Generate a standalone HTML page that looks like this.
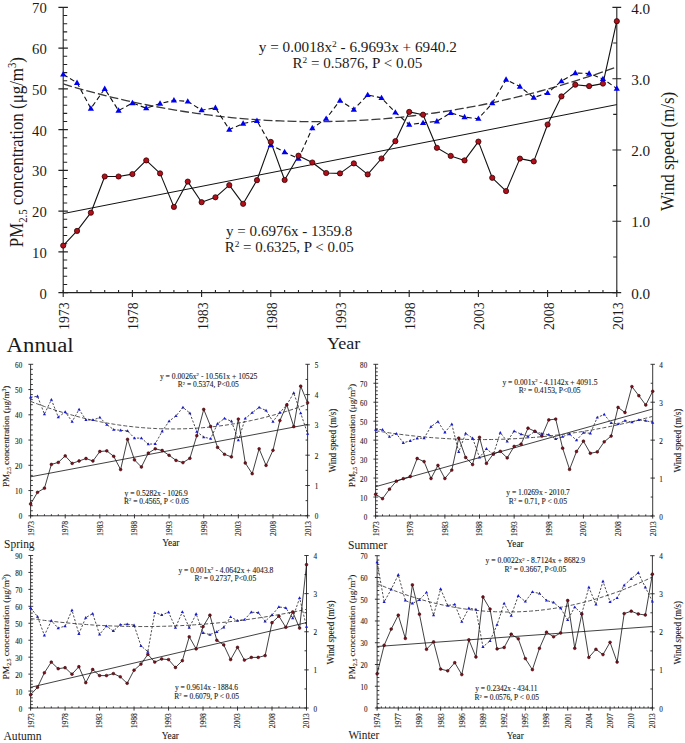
<!DOCTYPE html>
<html><head><meta charset="utf-8"><style>
html,body{margin:0;padding:0;background:#fff;}
body{width:685px;height:743px;overflow:hidden;font-family:"Liberation Serif",serif;}
svg{display:block;}
</style></head><body>
<svg width="685" height="743" viewBox="0 0 685 743" font-family='"Liberation Serif", serif'>
<rect width="685" height="743" fill="#fff"/>
<g stroke="#222" stroke-width="1.1" fill="none">
<path d="M63.2 7.4V292.6 M616.8 7.4V292.6 M63.2 292.6H616.8"/>
<path d="M58.4 292.6H67.9M63.2 284.45H67.2M63.2 276.3H67.2M63.2 268.15H67.2M63.2 260.01H67.2M58.4 251.86H67.9M63.2 243.71H67.2M63.2 235.56H67.2M63.2 227.41H67.2M63.2 219.26H67.2M58.4 211.11H67.9M63.2 202.97H67.2M63.2 194.82H67.2M63.2 186.67H67.2M63.2 178.52H67.2M58.4 170.37H67.9M63.2 162.22H67.2M63.2 154.07H67.2M63.2 145.93H67.2M63.2 137.78H67.2M58.4 129.63H67.9M63.2 121.48H67.2M63.2 113.33H67.2M63.2 105.18H67.2M63.2 97.03H67.2M58.4 88.89H67.9M63.2 80.74H67.2M63.2 72.59H67.2M63.2 64.44H67.2M63.2 56.29H67.2M58.4 48.14H67.9M63.2 39.99H67.2M63.2 31.85H67.2M63.2 23.7H67.2M63.2 15.55H67.2M58.4 7.4H67.9M612.4 292.6H621.2M613.2 256.95H616.8M612.4 221.3H621.2M613.2 185.65H616.8M612.4 150H621.2M613.2 114.35H616.8M612.4 78.7H621.2M613.2 43.05H616.8M612.4 7.4H621.2M63.2 290.1V296.9M77.04 290.1V292.6M90.88 290.1V292.6M104.72 290.1V292.6M118.56 290.1V292.6M132.4 290.1V296.9M146.24 290.1V292.6M160.08 290.1V292.6M173.92 290.1V292.6M187.76 290.1V292.6M201.6 290.1V296.9M215.44 290.1V292.6M229.28 290.1V292.6M243.12 290.1V292.6M256.96 290.1V292.6M270.8 290.1V296.9M284.64 290.1V292.6M298.48 290.1V292.6M312.32 290.1V292.6M326.16 290.1V292.6M340 290.1V296.9M353.84 290.1V292.6M367.68 290.1V292.6M381.52 290.1V292.6M395.36 290.1V292.6M409.2 290.1V296.9M423.04 290.1V292.6M436.88 290.1V292.6M450.72 290.1V292.6M464.56 290.1V292.6M478.4 290.1V296.9M492.24 290.1V292.6M506.08 290.1V292.6M519.92 290.1V292.6M533.76 290.1V292.6M547.6 290.1V296.9M561.44 290.1V292.6M575.28 290.1V292.6M589.12 290.1V292.6M602.96 290.1V292.6M616.8 290.1V296.9"/>
</g>
<text x="46.8" y="298.6" font-size="14.6" text-anchor="end" textLength="7.35" lengthAdjust="spacingAndGlyphs" fill="#1a1a1a">0</text>
<text x="46.8" y="257.86" font-size="14.6" text-anchor="end" textLength="14.7" lengthAdjust="spacingAndGlyphs" fill="#1a1a1a">10</text>
<text x="46.8" y="217.11" font-size="14.6" text-anchor="end" textLength="14.7" lengthAdjust="spacingAndGlyphs" fill="#1a1a1a">20</text>
<text x="46.8" y="176.37" font-size="14.6" text-anchor="end" textLength="14.7" lengthAdjust="spacingAndGlyphs" fill="#1a1a1a">30</text>
<text x="46.8" y="135.63" font-size="14.6" text-anchor="end" textLength="14.7" lengthAdjust="spacingAndGlyphs" fill="#1a1a1a">40</text>
<text x="46.8" y="94.89" font-size="14.6" text-anchor="end" textLength="14.7" lengthAdjust="spacingAndGlyphs" fill="#1a1a1a">50</text>
<text x="46.8" y="54.14" font-size="14.6" text-anchor="end" textLength="14.7" lengthAdjust="spacingAndGlyphs" fill="#1a1a1a">60</text>
<text x="46.8" y="13.4" font-size="14.6" text-anchor="end" textLength="14.7" lengthAdjust="spacingAndGlyphs" fill="#1a1a1a">70</text>
<text x="631.2" y="298.7" font-size="14.6" textLength="19" lengthAdjust="spacingAndGlyphs" fill="#1a1a1a">0.0</text>
<text x="631.2" y="227.4" font-size="14.6" textLength="19" lengthAdjust="spacingAndGlyphs" fill="#1a1a1a">1.0</text>
<text x="631.2" y="156.1" font-size="14.6" textLength="19" lengthAdjust="spacingAndGlyphs" fill="#1a1a1a">2.0</text>
<text x="631.2" y="84.8" font-size="14.6" textLength="19" lengthAdjust="spacingAndGlyphs" fill="#1a1a1a">3.0</text>
<text x="631.2" y="13.5" font-size="14.6" textLength="19" lengthAdjust="spacingAndGlyphs" fill="#1a1a1a">4.0</text>
<text transform="translate(69.2 330) rotate(-90)" font-size="14.6" textLength="27.6" lengthAdjust="spacingAndGlyphs" fill="#1a1a1a">1973</text>
<text transform="translate(138.4 330) rotate(-90)" font-size="14.6" textLength="27.6" lengthAdjust="spacingAndGlyphs" fill="#1a1a1a">1978</text>
<text transform="translate(207.6 330) rotate(-90)" font-size="14.6" textLength="27.6" lengthAdjust="spacingAndGlyphs" fill="#1a1a1a">1983</text>
<text transform="translate(276.8 330) rotate(-90)" font-size="14.6" textLength="27.6" lengthAdjust="spacingAndGlyphs" fill="#1a1a1a">1988</text>
<text transform="translate(346 330) rotate(-90)" font-size="14.6" textLength="27.6" lengthAdjust="spacingAndGlyphs" fill="#1a1a1a">1993</text>
<text transform="translate(415.2 330) rotate(-90)" font-size="14.6" textLength="27.6" lengthAdjust="spacingAndGlyphs" fill="#1a1a1a">1998</text>
<text transform="translate(484.4 330) rotate(-90)" font-size="14.6" textLength="27.6" lengthAdjust="spacingAndGlyphs" fill="#1a1a1a">2003</text>
<text transform="translate(553.6 330) rotate(-90)" font-size="14.6" textLength="27.6" lengthAdjust="spacingAndGlyphs" fill="#1a1a1a">2008</text>
<text transform="translate(622.8 330) rotate(-90)" font-size="14.6" textLength="27.6" lengthAdjust="spacingAndGlyphs" fill="#1a1a1a">2013</text>
<line x1="63.2" y1="213.6" x2="616.8" y2="104.6" stroke="#111" stroke-width="1"/>
<polyline points="63.2,83.97 70.21,86.04 77.22,88.06 84.22,90.02 91.23,91.91 98.24,93.75 105.25,95.53 112.25,97.26 119.26,98.92 126.27,100.52 133.28,102.07 140.28,103.56 147.29,104.99 154.3,106.35 161.31,107.67 168.31,108.92 175.32,110.11 182.33,111.25 189.34,112.32 196.34,113.34 203.35,114.3 210.36,115.2 217.37,116.04 224.37,116.82 231.38,117.55 238.39,118.21 245.4,118.82 252.41,119.36 259.41,119.85 266.42,120.28 273.43,120.65 280.44,120.97 287.44,121.22 294.45,121.42 301.46,121.55 308.47,121.63 315.47,121.65 322.48,121.61 329.49,121.51 336.5,121.35 343.5,121.14 350.51,120.86 357.52,120.53 364.53,120.14 371.53,119.69 378.54,119.18 385.55,118.61 392.56,117.98 399.56,117.3 406.57,116.55 413.58,115.75 420.59,114.89 427.59,113.97 434.6,112.99 441.61,111.95 448.62,110.85 455.63,109.7 462.63,108.48 469.64,107.21 476.65,105.88 483.66,104.49 490.66,103.04 497.67,101.53 504.68,99.97 511.69,98.34 518.69,96.66 525.7,94.91 532.71,93.11 539.72,91.25 546.72,89.33 553.73,87.36 560.74,85.32 567.75,83.23 574.75,81.07 581.76,78.86 588.77,76.59 595.78,74.26 602.78,71.87 609.79,69.42 616.8,66.92" fill="none" stroke="#3a3a3a" stroke-width="1.3" stroke-dasharray="9,3" stroke-linejoin="round"/>
<polyline points="63.2,74.3 77.04,82.8 90.88,108.5 104.72,88.8 118.56,110.6 132.4,103 146.24,108.2 160.08,103.5 173.92,100.3 187.76,101.4 201.6,110.2 215.44,107.8 229.28,129.5 243.12,123.6 256.96,120.8 270.8,145.1 284.64,152.1 298.48,158.7 312.32,128.1 326.16,118.7 340,100.5 353.84,109.5 367.68,94.9 381.52,97.9 395.36,112.4 409.2,124.6 423.04,122.9 436.88,121.3 450.72,112.9 464.56,117.1 478.4,118.7 492.24,103.2 506.08,79.6 519.92,86.6 533.76,97.6 547.6,92.9 561.44,81.2 575.28,73.1 589.12,73.5 602.96,78.9 616.8,88.5" fill="none" stroke="#111" stroke-width="1.1" stroke-dasharray="5,3" stroke-linejoin="round"/>
<polyline points="63.2,245.6 77.04,230.9 90.88,212.7 104.72,176.5 118.56,176.5 132.4,174.1 146.24,160.4 160.08,173.4 173.92,206.9 187.76,181.6 201.6,202.2 215.44,197.3 229.28,185.1 243.12,203.8 256.96,180.2 270.8,141.9 284.64,180 298.48,155.7 312.32,162.5 326.16,173 340,173.4 353.84,163.4 367.68,174.4 381.52,158.5 395.36,141.2 409.2,111.9 423.04,114.7 436.88,147.8 450.72,155.9 464.56,160.4 478.4,141.6 492.24,177.8 506.08,191.1 519.92,158.6 533.76,161.4 547.6,124.5 561.44,96.4 575.28,84.7 589.12,86.1 602.96,83.6 616.8,21.2" fill="none" stroke="#111" stroke-width="1.1" stroke-linejoin="round"/>
<g fill="#0000f0">
<path d="M63.2 71.06L66.3 76.46L60.1 76.46Z"/>
<path d="M77.04 79.56L80.14 84.96L73.94 84.96Z"/>
<path d="M90.88 105.26L93.98 110.66L87.78 110.66Z"/>
<path d="M104.72 85.56L107.82 90.96L101.62 90.96Z"/>
<path d="M118.56 107.36L121.66 112.76L115.46 112.76Z"/>
<path d="M132.4 99.76L135.5 105.16L129.3 105.16Z"/>
<path d="M146.24 104.96L149.34 110.36L143.14 110.36Z"/>
<path d="M160.08 100.26L163.18 105.66L156.98 105.66Z"/>
<path d="M173.92 97.06L177.02 102.46L170.82 102.46Z"/>
<path d="M187.76 98.16L190.86 103.56L184.66 103.56Z"/>
<path d="M201.6 106.96L204.7 112.36L198.5 112.36Z"/>
<path d="M215.44 104.56L218.54 109.96L212.34 109.96Z"/>
<path d="M229.28 126.26L232.38 131.66L226.18 131.66Z"/>
<path d="M243.12 120.36L246.22 125.76L240.02 125.76Z"/>
<path d="M256.96 117.56L260.06 122.96L253.86 122.96Z"/>
<path d="M270.8 141.86L273.9 147.26L267.7 147.26Z"/>
<path d="M284.64 148.86L287.74 154.26L281.54 154.26Z"/>
<path d="M298.48 155.46L301.58 160.86L295.38 160.86Z"/>
<path d="M312.32 124.86L315.42 130.26L309.22 130.26Z"/>
<path d="M326.16 115.46L329.26 120.86L323.06 120.86Z"/>
<path d="M340 97.26L343.1 102.66L336.9 102.66Z"/>
<path d="M353.84 106.26L356.94 111.66L350.74 111.66Z"/>
<path d="M367.68 91.66L370.78 97.06L364.58 97.06Z"/>
<path d="M381.52 94.66L384.62 100.06L378.42 100.06Z"/>
<path d="M395.36 109.16L398.46 114.56L392.26 114.56Z"/>
<path d="M409.2 121.36L412.3 126.76L406.1 126.76Z"/>
<path d="M423.04 119.66L426.14 125.06L419.94 125.06Z"/>
<path d="M436.88 118.06L439.98 123.46L433.78 123.46Z"/>
<path d="M450.72 109.66L453.82 115.06L447.62 115.06Z"/>
<path d="M464.56 113.86L467.66 119.26L461.46 119.26Z"/>
<path d="M478.4 115.46L481.5 120.86L475.3 120.86Z"/>
<path d="M492.24 99.96L495.34 105.36L489.14 105.36Z"/>
<path d="M506.08 76.36L509.18 81.76L502.98 81.76Z"/>
<path d="M519.92 83.36L523.02 88.76L516.82 88.76Z"/>
<path d="M533.76 94.36L536.86 99.76L530.66 99.76Z"/>
<path d="M547.6 89.66L550.7 95.06L544.5 95.06Z"/>
<path d="M561.44 77.96L564.54 83.36L558.34 83.36Z"/>
<path d="M575.28 69.86L578.38 75.26L572.18 75.26Z"/>
<path d="M589.12 70.26L592.22 75.66L586.02 75.66Z"/>
<path d="M602.96 75.66L606.06 81.06L599.86 81.06Z"/>
<path d="M616.8 85.26L619.9 90.66L613.7 90.66Z"/>
</g>
<g fill="#b0101c" stroke="#300" stroke-width="0.8">
<circle cx="63.2" cy="245.6" r="2.6"/>
<circle cx="77.04" cy="230.9" r="2.6"/>
<circle cx="90.88" cy="212.7" r="2.6"/>
<circle cx="104.72" cy="176.5" r="2.6"/>
<circle cx="118.56" cy="176.5" r="2.6"/>
<circle cx="132.4" cy="174.1" r="2.6"/>
<circle cx="146.24" cy="160.4" r="2.6"/>
<circle cx="160.08" cy="173.4" r="2.6"/>
<circle cx="173.92" cy="206.9" r="2.6"/>
<circle cx="187.76" cy="181.6" r="2.6"/>
<circle cx="201.6" cy="202.2" r="2.6"/>
<circle cx="215.44" cy="197.3" r="2.6"/>
<circle cx="229.28" cy="185.1" r="2.6"/>
<circle cx="243.12" cy="203.8" r="2.6"/>
<circle cx="256.96" cy="180.2" r="2.6"/>
<circle cx="270.8" cy="141.9" r="2.6"/>
<circle cx="284.64" cy="180" r="2.6"/>
<circle cx="298.48" cy="155.7" r="2.6"/>
<circle cx="312.32" cy="162.5" r="2.6"/>
<circle cx="326.16" cy="173" r="2.6"/>
<circle cx="340" cy="173.4" r="2.6"/>
<circle cx="353.84" cy="163.4" r="2.6"/>
<circle cx="367.68" cy="174.4" r="2.6"/>
<circle cx="381.52" cy="158.5" r="2.6"/>
<circle cx="395.36" cy="141.2" r="2.6"/>
<circle cx="409.2" cy="111.9" r="2.6"/>
<circle cx="423.04" cy="114.7" r="2.6"/>
<circle cx="436.88" cy="147.8" r="2.6"/>
<circle cx="450.72" cy="155.9" r="2.6"/>
<circle cx="464.56" cy="160.4" r="2.6"/>
<circle cx="478.4" cy="141.6" r="2.6"/>
<circle cx="492.24" cy="177.8" r="2.6"/>
<circle cx="506.08" cy="191.1" r="2.6"/>
<circle cx="519.92" cy="158.6" r="2.6"/>
<circle cx="533.76" cy="161.4" r="2.6"/>
<circle cx="547.6" cy="124.5" r="2.6"/>
<circle cx="561.44" cy="96.4" r="2.6"/>
<circle cx="575.28" cy="84.7" r="2.6"/>
<circle cx="589.12" cy="86.1" r="2.6"/>
<circle cx="602.96" cy="83.6" r="2.6"/>
<circle cx="616.8" cy="21.2" r="2.6"/>
</g>
<g stroke="#222" stroke-width="0.9" fill="none">
<path d="M30.6 364.3V515.8 M307.6 364.3V515.8 M30.6 515.8H307.6"/>
<path d="M28.4 515.8H33.2M30.6 510.75H32.8M30.6 505.7H32.8M30.6 500.65H32.8M30.6 495.6H32.8M28.4 490.55H33.2M30.6 485.5H32.8M30.6 480.45H32.8M30.6 475.4H32.8M30.6 470.35H32.8M28.4 465.3H33.2M30.6 460.25H32.8M30.6 455.2H32.8M30.6 450.15H32.8M30.6 445.1H32.8M28.4 440.05H33.2M30.6 435H32.8M30.6 429.95H32.8M30.6 424.9H32.8M30.6 419.85H32.8M28.4 414.8H33.2M30.6 409.75H32.8M30.6 404.7H32.8M30.6 399.65H32.8M30.6 394.6H32.8M28.4 389.55H33.2M30.6 384.5H32.8M30.6 379.45H32.8M30.6 374.4H32.8M30.6 369.35H32.8M28.4 364.3H33.2M305.4 515.8H309.8M305.6 500.65H307.6M305.4 485.5H309.8M305.6 470.35H307.6M305.4 455.2H309.8M305.6 440.05H307.6M305.4 424.9H309.8M305.6 409.75H307.6M305.4 394.6H309.8M305.6 379.45H307.6M305.4 364.3H309.8M30.6 514.2V518.4M37.52 514.2V515.8M44.45 514.2V515.8M51.38 514.2V515.8M58.3 514.2V515.8M65.22 514.2V518.4M72.15 514.2V515.8M79.08 514.2V515.8M86 514.2V515.8M92.92 514.2V515.8M99.85 514.2V518.4M106.78 514.2V515.8M113.7 514.2V515.8M120.62 514.2V515.8M127.55 514.2V515.8M134.47 514.2V518.4M141.4 514.2V515.8M148.32 514.2V515.8M155.25 514.2V515.8M162.17 514.2V515.8M169.1 514.2V518.4M176.02 514.2V515.8M182.95 514.2V515.8M189.88 514.2V515.8M196.8 514.2V515.8M203.72 514.2V518.4M210.65 514.2V515.8M217.57 514.2V515.8M224.5 514.2V515.8M231.42 514.2V515.8M238.35 514.2V518.4M245.27 514.2V515.8M252.2 514.2V515.8M259.12 514.2V515.8M266.05 514.2V515.8M272.98 514.2V518.4M279.9 514.2V515.8M286.82 514.2V515.8M293.75 514.2V515.8M300.68 514.2V515.8M307.6 514.2V518.4"/>
</g>
<text x="22.2" y="519.3" font-size="7.2" text-anchor="end" textLength="3.55" lengthAdjust="spacingAndGlyphs" fill="#1a1a1a" stroke="#1a1a1a" stroke-width="0.1">0</text>
<text x="22.2" y="494.05" font-size="7.2" text-anchor="end" textLength="7.1" lengthAdjust="spacingAndGlyphs" fill="#1a1a1a" stroke="#1a1a1a" stroke-width="0.1">10</text>
<text x="22.2" y="468.8" font-size="7.2" text-anchor="end" textLength="7.1" lengthAdjust="spacingAndGlyphs" fill="#1a1a1a" stroke="#1a1a1a" stroke-width="0.1">20</text>
<text x="22.2" y="443.55" font-size="7.2" text-anchor="end" textLength="7.1" lengthAdjust="spacingAndGlyphs" fill="#1a1a1a" stroke="#1a1a1a" stroke-width="0.1">30</text>
<text x="22.2" y="418.3" font-size="7.2" text-anchor="end" textLength="7.1" lengthAdjust="spacingAndGlyphs" fill="#1a1a1a" stroke="#1a1a1a" stroke-width="0.1">40</text>
<text x="22.2" y="393.05" font-size="7.2" text-anchor="end" textLength="7.1" lengthAdjust="spacingAndGlyphs" fill="#1a1a1a" stroke="#1a1a1a" stroke-width="0.1">50</text>
<text x="22.2" y="367.8" font-size="7.2" text-anchor="end" textLength="7.1" lengthAdjust="spacingAndGlyphs" fill="#1a1a1a" stroke="#1a1a1a" stroke-width="0.1">60</text>
<text x="314.8" y="519.3" font-size="7.2" fill="#1a1a1a" stroke="#1a1a1a" stroke-width="0.1">0</text>
<text x="314.8" y="489" font-size="7.2" fill="#1a1a1a" stroke="#1a1a1a" stroke-width="0.1">1</text>
<text x="314.8" y="458.7" font-size="7.2" fill="#1a1a1a" stroke="#1a1a1a" stroke-width="0.1">2</text>
<text x="314.8" y="428.4" font-size="7.2" fill="#1a1a1a" stroke="#1a1a1a" stroke-width="0.1">3</text>
<text x="314.8" y="398.1" font-size="7.2" fill="#1a1a1a" stroke="#1a1a1a" stroke-width="0.1">4</text>
<text x="314.8" y="367.8" font-size="7.2" fill="#1a1a1a" stroke="#1a1a1a" stroke-width="0.1">5</text>
<text transform="translate(33.5 536.1) rotate(-90)" font-size="8" textLength="15.2" lengthAdjust="spacingAndGlyphs" fill="#1a1a1a" stroke="#1a1a1a" stroke-width="0.1">1973</text>
<text transform="translate(68.12 536.1) rotate(-90)" font-size="8" textLength="15.2" lengthAdjust="spacingAndGlyphs" fill="#1a1a1a" stroke="#1a1a1a" stroke-width="0.1">1978</text>
<text transform="translate(102.75 536.1) rotate(-90)" font-size="8" textLength="15.2" lengthAdjust="spacingAndGlyphs" fill="#1a1a1a" stroke="#1a1a1a" stroke-width="0.1">1983</text>
<text transform="translate(137.38 536.1) rotate(-90)" font-size="8" textLength="15.2" lengthAdjust="spacingAndGlyphs" fill="#1a1a1a" stroke="#1a1a1a" stroke-width="0.1">1988</text>
<text transform="translate(172 536.1) rotate(-90)" font-size="8" textLength="15.2" lengthAdjust="spacingAndGlyphs" fill="#1a1a1a" stroke="#1a1a1a" stroke-width="0.1">1993</text>
<text transform="translate(206.62 536.1) rotate(-90)" font-size="8" textLength="15.2" lengthAdjust="spacingAndGlyphs" fill="#1a1a1a" stroke="#1a1a1a" stroke-width="0.1">1998</text>
<text transform="translate(241.25 536.1) rotate(-90)" font-size="8" textLength="15.2" lengthAdjust="spacingAndGlyphs" fill="#1a1a1a" stroke="#1a1a1a" stroke-width="0.1">2003</text>
<text transform="translate(275.88 536.1) rotate(-90)" font-size="8" textLength="15.2" lengthAdjust="spacingAndGlyphs" fill="#1a1a1a" stroke="#1a1a1a" stroke-width="0.1">2008</text>
<text transform="translate(310.5 536.1) rotate(-90)" font-size="8" textLength="15.2" lengthAdjust="spacingAndGlyphs" fill="#1a1a1a" stroke="#1a1a1a" stroke-width="0.1">2013</text>
<line x1="30.6" y1="476.8" x2="307.6" y2="424.5" stroke="#111" stroke-width="0.8"/>
<polyline points="30.6,401.38 34.11,402.72 37.61,404.03 41.12,405.3 44.63,406.55 48.13,407.75 51.64,408.93 55.14,410.07 58.65,411.18 62.16,412.25 65.66,413.29 69.17,414.3 72.68,415.27 76.18,416.21 79.69,417.12 83.19,418 86.7,418.83 90.21,419.64 93.71,420.41 97.22,421.15 100.73,421.86 104.23,422.53 107.74,423.17 111.25,423.77 114.75,424.35 118.26,424.88 121.76,425.39 125.27,425.86 128.78,426.3 132.28,426.7 135.79,427.07 139.3,427.41 142.8,427.71 146.31,427.98 149.82,428.22 153.32,428.42 156.83,428.59 160.33,428.73 163.84,428.83 167.35,428.9 170.85,428.93 174.36,428.93 177.87,428.9 181.37,428.84 184.88,428.74 188.38,428.61 191.89,428.44 195.4,428.24 198.9,428.01 202.41,427.74 205.92,427.44 209.42,427.11 212.93,426.74 216.44,426.34 219.94,425.91 223.45,425.44 226.95,424.94 230.46,424.4 233.97,423.84 237.47,423.24 240.98,422.6 244.49,421.93 247.99,421.23 251.5,420.49 255.01,419.72 258.51,418.92 262.02,418.09 265.52,417.22 269.03,416.31 272.54,415.38 276.04,414.41 279.55,413.4 283.06,412.36 286.56,411.29 290.07,410.19 293.57,409.05 297.08,407.88 300.59,406.67 304.09,405.44 307.6,404.16" fill="none" stroke="#555" stroke-width="1" stroke-dasharray="4,2" stroke-linejoin="round"/>
<polyline points="30.6,397.3 37.52,396.3 44.45,414.1 51.38,399.7 58.3,417.1 65.22,411.9 72.15,421.6 79.08,409.4 86,420 92.92,420 99.85,417.5 106.78,424.6 113.7,429.6 120.62,430.3 127.55,431 134.47,438.1 141.4,438.1 148.32,444.2 155.25,443.8 162.17,431.3 169.1,421.2 176.02,415.9 182.95,407.4 189.88,413.1 196.8,431.7 203.72,437.1 210.65,438.7 217.57,423.6 224.5,418.5 231.42,421.2 238.35,440.2 245.27,418.5 252.2,412.7 259.12,407.4 266.05,410.5 272.98,421.6 279.9,412.5 286.82,404.8 293.75,392.9 300.68,413.1 307.6,433.7" fill="none" stroke="#111" stroke-width="0.75" stroke-dasharray="2.2,1.6" stroke-linejoin="round"/>
<polyline points="30.6,504 37.52,492.3 44.45,488.2 51.38,464.4 58.3,462.4 65.22,455.9 72.15,463.4 79.08,461 86,458.5 92.92,461 99.85,451.5 106.78,450.9 113.7,456.3 120.62,469.6 127.55,439.3 134.47,459.9 141.4,467 148.32,453.1 155.25,448.8 162.17,450.5 169.1,455.3 176.02,460.4 182.95,462.6 189.88,458.3 196.8,435.7 203.72,409.4 210.65,426.4 217.57,447.4 224.5,454.3 231.42,456.9 238.35,419.1 245.27,463 252.2,473.7 259.12,448.8 266.05,465.4 272.98,450.3 279.9,420.6 286.82,404.8 293.75,426.6 300.68,386.2 307.6,402.8" fill="none" stroke="#111" stroke-width="0.8" stroke-linejoin="round"/>
<g fill="#1a1ad0">
<path d="M30.6 395.62L32.2 398.42L29 398.42Z"/>
<path d="M37.52 394.62L39.12 397.42L35.92 397.42Z"/>
<path d="M44.45 412.42L46.05 415.22L42.85 415.22Z"/>
<path d="M51.38 398.02L52.98 400.82L49.77 400.82Z"/>
<path d="M58.3 415.42L59.9 418.22L56.7 418.22Z"/>
<path d="M65.22 410.22L66.82 413.02L63.62 413.02Z"/>
<path d="M72.15 419.92L73.75 422.72L70.55 422.72Z"/>
<path d="M79.08 407.72L80.67 410.52L77.48 410.52Z"/>
<path d="M86 418.32L87.6 421.12L84.4 421.12Z"/>
<path d="M92.92 418.32L94.52 421.12L91.33 421.12Z"/>
<path d="M99.85 415.82L101.45 418.62L98.25 418.62Z"/>
<path d="M106.78 422.92L108.38 425.72L105.18 425.72Z"/>
<path d="M113.7 427.92L115.3 430.72L112.1 430.72Z"/>
<path d="M120.62 428.62L122.22 431.42L119.03 431.42Z"/>
<path d="M127.55 429.32L129.15 432.12L125.95 432.12Z"/>
<path d="M134.47 436.42L136.07 439.22L132.88 439.22Z"/>
<path d="M141.4 436.42L143 439.22L139.8 439.22Z"/>
<path d="M148.32 442.52L149.92 445.32L146.72 445.32Z"/>
<path d="M155.25 442.12L156.85 444.92L153.65 444.92Z"/>
<path d="M162.17 429.62L163.77 432.42L160.57 432.42Z"/>
<path d="M169.1 419.52L170.7 422.32L167.5 422.32Z"/>
<path d="M176.02 414.22L177.62 417.02L174.42 417.02Z"/>
<path d="M182.95 405.72L184.55 408.52L181.35 408.52Z"/>
<path d="M189.88 411.42L191.47 414.22L188.28 414.22Z"/>
<path d="M196.8 430.02L198.4 432.82L195.2 432.82Z"/>
<path d="M203.72 435.42L205.32 438.22L202.12 438.22Z"/>
<path d="M210.65 437.02L212.25 439.82L209.05 439.82Z"/>
<path d="M217.57 421.92L219.17 424.72L215.97 424.72Z"/>
<path d="M224.5 416.82L226.1 419.62L222.9 419.62Z"/>
<path d="M231.42 419.52L233.02 422.32L229.82 422.32Z"/>
<path d="M238.35 438.52L239.95 441.32L236.75 441.32Z"/>
<path d="M245.27 416.82L246.87 419.62L243.67 419.62Z"/>
<path d="M252.2 411.02L253.8 413.82L250.6 413.82Z"/>
<path d="M259.12 405.72L260.73 408.52L257.52 408.52Z"/>
<path d="M266.05 408.82L267.65 411.62L264.45 411.62Z"/>
<path d="M272.98 419.92L274.58 422.72L271.38 422.72Z"/>
<path d="M279.9 410.82L281.5 413.62L278.3 413.62Z"/>
<path d="M286.82 403.12L288.43 405.92L285.22 405.92Z"/>
<path d="M293.75 391.22L295.35 394.02L292.15 394.02Z"/>
<path d="M300.68 411.42L302.28 414.22L299.07 414.22Z"/>
<path d="M307.6 432.02L309.2 434.82L306 434.82Z"/>
</g>
<g fill="#7a1020" stroke="#300" stroke-width="0.5">
<circle cx="30.6" cy="504" r="1.4"/>
<circle cx="37.52" cy="492.3" r="1.4"/>
<circle cx="44.45" cy="488.2" r="1.4"/>
<circle cx="51.38" cy="464.4" r="1.4"/>
<circle cx="58.3" cy="462.4" r="1.4"/>
<circle cx="65.22" cy="455.9" r="1.4"/>
<circle cx="72.15" cy="463.4" r="1.4"/>
<circle cx="79.08" cy="461" r="1.4"/>
<circle cx="86" cy="458.5" r="1.4"/>
<circle cx="92.92" cy="461" r="1.4"/>
<circle cx="99.85" cy="451.5" r="1.4"/>
<circle cx="106.78" cy="450.9" r="1.4"/>
<circle cx="113.7" cy="456.3" r="1.4"/>
<circle cx="120.62" cy="469.6" r="1.4"/>
<circle cx="127.55" cy="439.3" r="1.4"/>
<circle cx="134.47" cy="459.9" r="1.4"/>
<circle cx="141.4" cy="467" r="1.4"/>
<circle cx="148.32" cy="453.1" r="1.4"/>
<circle cx="155.25" cy="448.8" r="1.4"/>
<circle cx="162.17" cy="450.5" r="1.4"/>
<circle cx="169.1" cy="455.3" r="1.4"/>
<circle cx="176.02" cy="460.4" r="1.4"/>
<circle cx="182.95" cy="462.6" r="1.4"/>
<circle cx="189.88" cy="458.3" r="1.4"/>
<circle cx="196.8" cy="435.7" r="1.4"/>
<circle cx="203.72" cy="409.4" r="1.4"/>
<circle cx="210.65" cy="426.4" r="1.4"/>
<circle cx="217.57" cy="447.4" r="1.4"/>
<circle cx="224.5" cy="454.3" r="1.4"/>
<circle cx="231.42" cy="456.9" r="1.4"/>
<circle cx="238.35" cy="419.1" r="1.4"/>
<circle cx="245.27" cy="463" r="1.4"/>
<circle cx="252.2" cy="473.7" r="1.4"/>
<circle cx="259.12" cy="448.8" r="1.4"/>
<circle cx="266.05" cy="465.4" r="1.4"/>
<circle cx="272.98" cy="450.3" r="1.4"/>
<circle cx="279.9" cy="420.6" r="1.4"/>
<circle cx="286.82" cy="404.8" r="1.4"/>
<circle cx="293.75" cy="426.6" r="1.4"/>
<circle cx="300.68" cy="386.2" r="1.4"/>
<circle cx="307.6" cy="402.8" r="1.4"/>
</g>
<g stroke="#222" stroke-width="0.9" fill="none">
<path d="M375.6 364.3V516 M652.7 364.3V516 M375.6 516H652.7"/>
<path d="M373.4 516H378.2M375.6 512.21H377.8M375.6 508.42H377.8M375.6 504.62H377.8M375.6 500.83H377.8M373.4 497.04H378.2M375.6 493.25H377.8M375.6 489.45H377.8M375.6 485.66H377.8M375.6 481.87H377.8M373.4 478.07H378.2M375.6 474.28H377.8M375.6 470.49H377.8M375.6 466.7H377.8M375.6 462.91H377.8M373.4 459.11H378.2M375.6 455.32H377.8M375.6 451.53H377.8M375.6 447.74H377.8M375.6 443.94H377.8M373.4 440.15H378.2M375.6 436.36H377.8M375.6 432.56H377.8M375.6 428.77H377.8M375.6 424.98H377.8M373.4 421.19H378.2M375.6 417.39H377.8M375.6 413.6H377.8M375.6 409.81H377.8M375.6 406.02H377.8M373.4 402.23H378.2M375.6 398.43H377.8M375.6 394.64H377.8M375.6 390.85H377.8M375.6 387.06H377.8M373.4 383.26H378.2M375.6 379.47H377.8M375.6 375.68H377.8M375.6 371.88H377.8M375.6 368.09H377.8M373.4 364.3H378.2M650.5 516H654.9M650.7 497.04H652.7M650.5 478.07H654.9M650.7 459.11H652.7M650.5 440.15H654.9M650.7 421.19H652.7M650.5 402.23H654.9M650.7 383.26H652.7M650.5 364.3H654.9M375.6 514.4V518.6M382.53 514.4V516M389.46 514.4V516M396.38 514.4V516M403.31 514.4V516M410.24 514.4V518.6M417.17 514.4V516M424.09 514.4V516M431.02 514.4V516M437.95 514.4V516M444.88 514.4V518.6M451.8 514.4V516M458.73 514.4V516M465.66 514.4V516M472.59 514.4V516M479.51 514.4V518.6M486.44 514.4V516M493.37 514.4V516M500.3 514.4V516M507.22 514.4V516M514.15 514.4V518.6M521.08 514.4V516M528 514.4V516M534.93 514.4V516M541.86 514.4V516M548.79 514.4V518.6M555.72 514.4V516M562.64 514.4V516M569.57 514.4V516M576.5 514.4V516M583.43 514.4V518.6M590.35 514.4V516M597.28 514.4V516M604.21 514.4V516M611.13 514.4V516M618.06 514.4V518.6M624.99 514.4V516M631.92 514.4V516M638.85 514.4V516M645.77 514.4V516M652.7 514.4V518.6"/>
</g>
<text x="367.2" y="519.5" font-size="7.2" text-anchor="end" textLength="3.55" lengthAdjust="spacingAndGlyphs" fill="#1a1a1a" stroke="#1a1a1a" stroke-width="0.1">0</text>
<text x="367.2" y="500.54" font-size="7.2" text-anchor="end" textLength="7.1" lengthAdjust="spacingAndGlyphs" fill="#1a1a1a" stroke="#1a1a1a" stroke-width="0.1">10</text>
<text x="367.2" y="481.57" font-size="7.2" text-anchor="end" textLength="7.1" lengthAdjust="spacingAndGlyphs" fill="#1a1a1a" stroke="#1a1a1a" stroke-width="0.1">20</text>
<text x="367.2" y="462.61" font-size="7.2" text-anchor="end" textLength="7.1" lengthAdjust="spacingAndGlyphs" fill="#1a1a1a" stroke="#1a1a1a" stroke-width="0.1">30</text>
<text x="367.2" y="443.65" font-size="7.2" text-anchor="end" textLength="7.1" lengthAdjust="spacingAndGlyphs" fill="#1a1a1a" stroke="#1a1a1a" stroke-width="0.1">40</text>
<text x="367.2" y="424.69" font-size="7.2" text-anchor="end" textLength="7.1" lengthAdjust="spacingAndGlyphs" fill="#1a1a1a" stroke="#1a1a1a" stroke-width="0.1">50</text>
<text x="367.2" y="405.73" font-size="7.2" text-anchor="end" textLength="7.1" lengthAdjust="spacingAndGlyphs" fill="#1a1a1a" stroke="#1a1a1a" stroke-width="0.1">60</text>
<text x="367.2" y="386.76" font-size="7.2" text-anchor="end" textLength="7.1" lengthAdjust="spacingAndGlyphs" fill="#1a1a1a" stroke="#1a1a1a" stroke-width="0.1">70</text>
<text x="367.2" y="367.8" font-size="7.2" text-anchor="end" textLength="7.1" lengthAdjust="spacingAndGlyphs" fill="#1a1a1a" stroke="#1a1a1a" stroke-width="0.1">80</text>
<text x="659.3" y="519.5" font-size="7.2" fill="#1a1a1a" stroke="#1a1a1a" stroke-width="0.1">0</text>
<text x="659.3" y="481.57" font-size="7.2" fill="#1a1a1a" stroke="#1a1a1a" stroke-width="0.1">1</text>
<text x="659.3" y="443.65" font-size="7.2" fill="#1a1a1a" stroke="#1a1a1a" stroke-width="0.1">2</text>
<text x="659.3" y="405.73" font-size="7.2" fill="#1a1a1a" stroke="#1a1a1a" stroke-width="0.1">3</text>
<text x="659.3" y="367.8" font-size="7.2" fill="#1a1a1a" stroke="#1a1a1a" stroke-width="0.1">4</text>
<text transform="translate(378.5 536.3) rotate(-90)" font-size="8" textLength="15.2" lengthAdjust="spacingAndGlyphs" fill="#1a1a1a" stroke="#1a1a1a" stroke-width="0.1">1973</text>
<text transform="translate(413.14 536.3) rotate(-90)" font-size="8" textLength="15.2" lengthAdjust="spacingAndGlyphs" fill="#1a1a1a" stroke="#1a1a1a" stroke-width="0.1">1978</text>
<text transform="translate(447.77 536.3) rotate(-90)" font-size="8" textLength="15.2" lengthAdjust="spacingAndGlyphs" fill="#1a1a1a" stroke="#1a1a1a" stroke-width="0.1">1983</text>
<text transform="translate(482.41 536.3) rotate(-90)" font-size="8" textLength="15.2" lengthAdjust="spacingAndGlyphs" fill="#1a1a1a" stroke="#1a1a1a" stroke-width="0.1">1988</text>
<text transform="translate(517.05 536.3) rotate(-90)" font-size="8" textLength="15.2" lengthAdjust="spacingAndGlyphs" fill="#1a1a1a" stroke="#1a1a1a" stroke-width="0.1">1993</text>
<text transform="translate(551.69 536.3) rotate(-90)" font-size="8" textLength="15.2" lengthAdjust="spacingAndGlyphs" fill="#1a1a1a" stroke="#1a1a1a" stroke-width="0.1">1998</text>
<text transform="translate(586.33 536.3) rotate(-90)" font-size="8" textLength="15.2" lengthAdjust="spacingAndGlyphs" fill="#1a1a1a" stroke="#1a1a1a" stroke-width="0.1">2003</text>
<text transform="translate(620.96 536.3) rotate(-90)" font-size="8" textLength="15.2" lengthAdjust="spacingAndGlyphs" fill="#1a1a1a" stroke="#1a1a1a" stroke-width="0.1">2008</text>
<text transform="translate(655.6 536.3) rotate(-90)" font-size="8" textLength="15.2" lengthAdjust="spacingAndGlyphs" fill="#1a1a1a" stroke="#1a1a1a" stroke-width="0.1">2013</text>
<line x1="375.6" y1="486.7" x2="652.7" y2="409" stroke="#111" stroke-width="0.8"/>
<polyline points="375.6,430.7 379.11,431.28 382.62,431.84 386.12,432.38 389.63,432.9 393.14,433.4 396.65,433.88 400.15,434.34 403.66,434.78 407.17,435.2 410.68,435.61 414.18,435.99 417.69,436.36 421.2,436.7 424.71,437.03 428.21,437.33 431.72,437.62 435.23,437.89 438.74,438.13 442.24,438.36 445.75,438.57 449.26,438.76 452.77,438.93 456.27,439.08 459.78,439.21 463.29,439.32 466.8,439.41 470.31,439.48 473.81,439.53 477.32,439.57 480.83,439.58 484.34,439.57 487.84,439.55 491.35,439.5 494.86,439.44 498.37,439.36 501.87,439.25 505.38,439.13 508.89,438.99 512.4,438.82 515.9,438.64 519.41,438.44 522.92,438.22 526.43,437.98 529.93,437.72 533.44,437.44 536.95,437.14 540.46,436.83 543.96,436.49 547.47,436.13 550.98,435.75 554.49,435.36 557.99,434.94 561.5,434.51 565.01,434.05 568.52,433.58 572.03,433.09 575.53,432.57 579.04,432.04 582.55,431.49 586.06,430.92 589.56,430.33 593.07,429.72 596.58,429.09 600.09,428.44 603.59,427.77 607.1,427.08 610.61,426.37 614.12,425.65 617.62,424.9 621.13,424.13 624.64,423.35 628.15,422.54 631.65,421.72 635.16,420.87 638.67,420.01 642.18,419.12 645.68,418.22 649.19,417.3 652.7,416.36" fill="none" stroke="#555" stroke-width="1" stroke-dasharray="4,2" stroke-linejoin="round"/>
<polyline points="375.6,429.6 382.53,429.6 389.46,436.7 396.38,433.7 403.31,442.8 410.24,440.8 417.17,438.3 424.09,438.1 431.02,426.6 437.95,421.6 444.88,432.3 451.8,424.2 458.73,451.9 465.66,433.5 472.59,438.1 479.51,457.5 486.44,448.8 493.37,454.5 500.3,432.7 507.22,441.4 514.15,431.1 521.08,434.1 528,436.3 534.93,431.3 541.86,433.7 548.79,434.7 555.72,439 562.64,436.7 569.57,434.1 576.5,440.2 583.43,432.7 590.35,433.3 597.28,417.5 604.21,414.5 611.13,423 618.06,424 624.99,420.6 631.92,422.2 638.85,420 645.77,420.6 652.7,422.6" fill="none" stroke="#111" stroke-width="0.75" stroke-dasharray="2.2,1.6" stroke-linejoin="round"/>
<polyline points="375.6,494.3 382.53,498.7 389.46,489.2 396.38,481.2 403.31,478.7 410.24,476.5 417.17,458.5 424.09,461.6 431.02,478.5 437.95,465.4 444.88,478.5 451.8,470.1 458.73,438.1 465.66,457.5 472.59,464.6 479.51,437.3 486.44,463.4 493.37,453.9 500.3,451.3 507.22,457.9 514.15,446.4 521.08,444.2 528,428.2 534.93,431.3 541.86,436.1 548.79,419.9 555.72,419.1 562.64,448.2 569.57,469.4 576.5,451.5 583.43,441.2 590.35,453.3 597.28,451.9 604.21,441.8 611.13,436.1 618.06,407.4 624.99,412.5 631.92,386.6 638.85,395.7 645.77,405 652.7,391.3" fill="none" stroke="#111" stroke-width="0.8" stroke-linejoin="round"/>
<g fill="#1a1ad0">
<path d="M375.6 427.92L377.2 430.72L374 430.72Z"/>
<path d="M382.53 427.92L384.13 430.72L380.93 430.72Z"/>
<path d="M389.46 435.02L391.06 437.82L387.86 437.82Z"/>
<path d="M396.38 432.02L397.98 434.82L394.78 434.82Z"/>
<path d="M403.31 441.12L404.91 443.92L401.71 443.92Z"/>
<path d="M410.24 439.12L411.84 441.92L408.64 441.92Z"/>
<path d="M417.17 436.62L418.77 439.42L415.56 439.42Z"/>
<path d="M424.09 436.42L425.69 439.22L422.49 439.22Z"/>
<path d="M431.02 424.92L432.62 427.72L429.42 427.72Z"/>
<path d="M437.95 419.92L439.55 422.72L436.35 422.72Z"/>
<path d="M444.88 430.62L446.48 433.42L443.27 433.42Z"/>
<path d="M451.8 422.52L453.4 425.32L450.2 425.32Z"/>
<path d="M458.73 450.22L460.33 453.02L457.13 453.02Z"/>
<path d="M465.66 431.82L467.26 434.62L464.06 434.62Z"/>
<path d="M472.59 436.42L474.19 439.22L470.99 439.22Z"/>
<path d="M479.51 455.82L481.11 458.62L477.91 458.62Z"/>
<path d="M486.44 447.12L488.04 449.92L484.84 449.92Z"/>
<path d="M493.37 452.82L494.97 455.62L491.77 455.62Z"/>
<path d="M500.3 431.02L501.9 433.82L498.69 433.82Z"/>
<path d="M507.22 439.72L508.82 442.52L505.62 442.52Z"/>
<path d="M514.15 429.42L515.75 432.22L512.55 432.22Z"/>
<path d="M521.08 432.42L522.68 435.22L519.48 435.22Z"/>
<path d="M528 434.62L529.61 437.42L526.4 437.42Z"/>
<path d="M534.93 429.62L536.53 432.42L533.33 432.42Z"/>
<path d="M541.86 432.02L543.46 434.82L540.26 434.82Z"/>
<path d="M548.79 433.02L550.39 435.82L547.19 435.82Z"/>
<path d="M555.72 437.32L557.32 440.12L554.12 440.12Z"/>
<path d="M562.64 435.02L564.24 437.82L561.04 437.82Z"/>
<path d="M569.57 432.42L571.17 435.22L567.97 435.22Z"/>
<path d="M576.5 438.52L578.1 441.32L574.9 441.32Z"/>
<path d="M583.43 431.02L585.03 433.82L581.83 433.82Z"/>
<path d="M590.35 431.62L591.95 434.42L588.75 434.42Z"/>
<path d="M597.28 415.82L598.88 418.62L595.68 418.62Z"/>
<path d="M604.21 412.82L605.81 415.62L602.61 415.62Z"/>
<path d="M611.13 421.32L612.74 424.12L609.53 424.12Z"/>
<path d="M618.06 422.32L619.66 425.12L616.46 425.12Z"/>
<path d="M624.99 418.92L626.59 421.72L623.39 421.72Z"/>
<path d="M631.92 420.52L633.52 423.32L630.32 423.32Z"/>
<path d="M638.85 418.32L640.45 421.12L637.25 421.12Z"/>
<path d="M645.77 418.92L647.37 421.72L644.17 421.72Z"/>
<path d="M652.7 420.92L654.3 423.72L651.1 423.72Z"/>
</g>
<g fill="#7a1020" stroke="#300" stroke-width="0.5">
<circle cx="375.6" cy="494.3" r="1.4"/>
<circle cx="382.53" cy="498.7" r="1.4"/>
<circle cx="389.46" cy="489.2" r="1.4"/>
<circle cx="396.38" cy="481.2" r="1.4"/>
<circle cx="403.31" cy="478.7" r="1.4"/>
<circle cx="410.24" cy="476.5" r="1.4"/>
<circle cx="417.17" cy="458.5" r="1.4"/>
<circle cx="424.09" cy="461.6" r="1.4"/>
<circle cx="431.02" cy="478.5" r="1.4"/>
<circle cx="437.95" cy="465.4" r="1.4"/>
<circle cx="444.88" cy="478.5" r="1.4"/>
<circle cx="451.8" cy="470.1" r="1.4"/>
<circle cx="458.73" cy="438.1" r="1.4"/>
<circle cx="465.66" cy="457.5" r="1.4"/>
<circle cx="472.59" cy="464.6" r="1.4"/>
<circle cx="479.51" cy="437.3" r="1.4"/>
<circle cx="486.44" cy="463.4" r="1.4"/>
<circle cx="493.37" cy="453.9" r="1.4"/>
<circle cx="500.3" cy="451.3" r="1.4"/>
<circle cx="507.22" cy="457.9" r="1.4"/>
<circle cx="514.15" cy="446.4" r="1.4"/>
<circle cx="521.08" cy="444.2" r="1.4"/>
<circle cx="528" cy="428.2" r="1.4"/>
<circle cx="534.93" cy="431.3" r="1.4"/>
<circle cx="541.86" cy="436.1" r="1.4"/>
<circle cx="548.79" cy="419.9" r="1.4"/>
<circle cx="555.72" cy="419.1" r="1.4"/>
<circle cx="562.64" cy="448.2" r="1.4"/>
<circle cx="569.57" cy="469.4" r="1.4"/>
<circle cx="576.5" cy="451.5" r="1.4"/>
<circle cx="583.43" cy="441.2" r="1.4"/>
<circle cx="590.35" cy="453.3" r="1.4"/>
<circle cx="597.28" cy="451.9" r="1.4"/>
<circle cx="604.21" cy="441.8" r="1.4"/>
<circle cx="611.13" cy="436.1" r="1.4"/>
<circle cx="618.06" cy="407.4" r="1.4"/>
<circle cx="624.99" cy="412.5" r="1.4"/>
<circle cx="631.92" cy="386.6" r="1.4"/>
<circle cx="638.85" cy="395.7" r="1.4"/>
<circle cx="645.77" cy="405" r="1.4"/>
<circle cx="652.7" cy="391.3" r="1.4"/>
</g>
<g stroke="#222" stroke-width="0.9" fill="none">
<path d="M30.6 555.5V708 M306.5 555.5V708 M30.6 708H306.5"/>
<path d="M28.4 708H33.2M30.6 704.61H32.8M30.6 701.22H32.8M30.6 697.83H32.8M30.6 694.44H32.8M28.4 691.06H33.2M30.6 687.67H32.8M30.6 684.28H32.8M30.6 680.89H32.8M30.6 677.5H32.8M28.4 674.11H33.2M30.6 670.72H32.8M30.6 667.33H32.8M30.6 663.94H32.8M30.6 660.56H32.8M28.4 657.17H33.2M30.6 653.78H32.8M30.6 650.39H32.8M30.6 647H32.8M30.6 643.61H32.8M28.4 640.22H33.2M30.6 636.83H32.8M30.6 633.44H32.8M30.6 630.06H32.8M30.6 626.67H32.8M28.4 623.28H33.2M30.6 619.89H32.8M30.6 616.5H32.8M30.6 613.11H32.8M30.6 609.72H32.8M28.4 606.33H33.2M30.6 602.94H32.8M30.6 599.56H32.8M30.6 596.17H32.8M30.6 592.78H32.8M28.4 589.39H33.2M30.6 586H32.8M30.6 582.61H32.8M30.6 579.22H32.8M30.6 575.83H32.8M28.4 572.44H33.2M30.6 569.06H32.8M30.6 565.67H32.8M30.6 562.28H32.8M30.6 558.89H32.8M28.4 555.5H33.2M304.3 708H308.7M304.5 688.94H306.5M304.3 669.88H308.7M304.5 650.81H306.5M304.3 631.75H308.7M304.5 612.69H306.5M304.3 593.62H308.7M304.5 574.56H306.5M304.3 555.5H308.7M30.6 706.4V710.6M37.5 706.4V708M44.39 706.4V708M51.29 706.4V708M58.19 706.4V708M65.09 706.4V710.6M71.98 706.4V708M78.88 706.4V708M85.78 706.4V708M92.68 706.4V708M99.57 706.4V710.6M106.47 706.4V708M113.37 706.4V708M120.27 706.4V708M127.16 706.4V708M134.06 706.4V710.6M140.96 706.4V708M147.86 706.4V708M154.75 706.4V708M161.65 706.4V708M168.55 706.4V710.6M175.45 706.4V708M182.34 706.4V708M189.24 706.4V708M196.14 706.4V708M203.04 706.4V710.6M209.93 706.4V708M216.83 706.4V708M223.73 706.4V708M230.63 706.4V708M237.52 706.4V710.6M244.42 706.4V708M251.32 706.4V708M258.22 706.4V708M265.11 706.4V708M272.01 706.4V710.6M278.91 706.4V708M285.81 706.4V708M292.7 706.4V708M299.6 706.4V708M306.5 706.4V710.6"/>
</g>
<text x="22.4" y="711.5" font-size="7.2" text-anchor="end" textLength="3.55" lengthAdjust="spacingAndGlyphs" fill="#1a1a1a" stroke="#1a1a1a" stroke-width="0.1">0</text>
<text x="22.4" y="694.56" font-size="7.2" text-anchor="end" textLength="7.1" lengthAdjust="spacingAndGlyphs" fill="#1a1a1a" stroke="#1a1a1a" stroke-width="0.1">10</text>
<text x="22.4" y="677.61" font-size="7.2" text-anchor="end" textLength="7.1" lengthAdjust="spacingAndGlyphs" fill="#1a1a1a" stroke="#1a1a1a" stroke-width="0.1">20</text>
<text x="22.4" y="660.67" font-size="7.2" text-anchor="end" textLength="7.1" lengthAdjust="spacingAndGlyphs" fill="#1a1a1a" stroke="#1a1a1a" stroke-width="0.1">30</text>
<text x="22.4" y="643.72" font-size="7.2" text-anchor="end" textLength="7.1" lengthAdjust="spacingAndGlyphs" fill="#1a1a1a" stroke="#1a1a1a" stroke-width="0.1">40</text>
<text x="22.4" y="626.78" font-size="7.2" text-anchor="end" textLength="7.1" lengthAdjust="spacingAndGlyphs" fill="#1a1a1a" stroke="#1a1a1a" stroke-width="0.1">50</text>
<text x="22.4" y="609.83" font-size="7.2" text-anchor="end" textLength="7.1" lengthAdjust="spacingAndGlyphs" fill="#1a1a1a" stroke="#1a1a1a" stroke-width="0.1">60</text>
<text x="22.4" y="592.89" font-size="7.2" text-anchor="end" textLength="7.1" lengthAdjust="spacingAndGlyphs" fill="#1a1a1a" stroke="#1a1a1a" stroke-width="0.1">70</text>
<text x="22.4" y="575.94" font-size="7.2" text-anchor="end" textLength="7.1" lengthAdjust="spacingAndGlyphs" fill="#1a1a1a" stroke="#1a1a1a" stroke-width="0.1">80</text>
<text x="22.4" y="559" font-size="7.2" text-anchor="end" textLength="7.1" lengthAdjust="spacingAndGlyphs" fill="#1a1a1a" stroke="#1a1a1a" stroke-width="0.1">90</text>
<text x="313.6" y="711.5" font-size="7.2" fill="#1a1a1a" stroke="#1a1a1a" stroke-width="0.1">0</text>
<text x="313.6" y="673.38" font-size="7.2" fill="#1a1a1a" stroke="#1a1a1a" stroke-width="0.1">1</text>
<text x="313.6" y="635.25" font-size="7.2" fill="#1a1a1a" stroke="#1a1a1a" stroke-width="0.1">2</text>
<text x="313.6" y="597.12" font-size="7.2" fill="#1a1a1a" stroke="#1a1a1a" stroke-width="0.1">3</text>
<text x="313.6" y="559" font-size="7.2" fill="#1a1a1a" stroke="#1a1a1a" stroke-width="0.1">4</text>
<text transform="translate(33.5 728.3) rotate(-90)" font-size="8" textLength="15.2" lengthAdjust="spacingAndGlyphs" fill="#1a1a1a" stroke="#1a1a1a" stroke-width="0.1">1973</text>
<text transform="translate(67.99 728.3) rotate(-90)" font-size="8" textLength="15.2" lengthAdjust="spacingAndGlyphs" fill="#1a1a1a" stroke="#1a1a1a" stroke-width="0.1">1978</text>
<text transform="translate(102.47 728.3) rotate(-90)" font-size="8" textLength="15.2" lengthAdjust="spacingAndGlyphs" fill="#1a1a1a" stroke="#1a1a1a" stroke-width="0.1">1983</text>
<text transform="translate(136.96 728.3) rotate(-90)" font-size="8" textLength="15.2" lengthAdjust="spacingAndGlyphs" fill="#1a1a1a" stroke="#1a1a1a" stroke-width="0.1">1988</text>
<text transform="translate(171.45 728.3) rotate(-90)" font-size="8" textLength="15.2" lengthAdjust="spacingAndGlyphs" fill="#1a1a1a" stroke="#1a1a1a" stroke-width="0.1">1993</text>
<text transform="translate(205.94 728.3) rotate(-90)" font-size="8" textLength="15.2" lengthAdjust="spacingAndGlyphs" fill="#1a1a1a" stroke="#1a1a1a" stroke-width="0.1">1998</text>
<text transform="translate(240.42 728.3) rotate(-90)" font-size="8" textLength="15.2" lengthAdjust="spacingAndGlyphs" fill="#1a1a1a" stroke="#1a1a1a" stroke-width="0.1">2003</text>
<text transform="translate(274.91 728.3) rotate(-90)" font-size="8" textLength="15.2" lengthAdjust="spacingAndGlyphs" fill="#1a1a1a" stroke="#1a1a1a" stroke-width="0.1">2008</text>
<text transform="translate(309.4 728.3) rotate(-90)" font-size="8" textLength="15.2" lengthAdjust="spacingAndGlyphs" fill="#1a1a1a" stroke="#1a1a1a" stroke-width="0.1">2013</text>
<line x1="30.6" y1="687.3" x2="306.5" y2="622.6" stroke="#111" stroke-width="0.8"/>
<polyline points="30.6,618.51 34.09,619.01 37.58,619.49 41.08,619.95 44.57,620.4 48.06,620.83 51.55,621.24 55.05,621.64 58.54,622.03 62.03,622.4 65.52,622.75 69.02,623.09 72.51,623.41 76,623.72 79.49,624.01 82.99,624.28 86.48,624.54 89.97,624.79 93.46,625.02 96.96,625.23 100.45,625.42 103.94,625.61 107.43,625.77 110.93,625.92 114.42,626.05 117.91,626.17 121.4,626.28 124.89,626.36 128.39,626.43 131.88,626.49 135.37,626.53 138.86,626.55 142.36,626.56 145.85,626.56 149.34,626.53 152.83,626.5 156.33,626.44 159.82,626.37 163.31,626.29 166.8,626.19 170.3,626.07 173.79,625.94 177.28,625.79 180.77,625.63 184.27,625.45 187.76,625.25 191.25,625.04 194.74,624.81 198.24,624.57 201.73,624.31 205.22,624.04 208.71,623.75 212.21,623.45 215.7,623.13 219.19,622.79 222.68,622.44 226.17,622.07 229.67,621.69 233.16,621.29 236.65,620.88 240.14,620.45 243.64,620 247.13,619.54 250.62,619.06 254.11,618.57 257.61,618.06 261.1,617.54 264.59,617 268.08,616.44 271.58,615.87 275.07,615.29 278.56,614.68 282.05,614.06 285.55,613.43 289.04,612.78 292.53,612.12 296.02,611.44 299.52,610.74 303.01,610.03 306.5,609.3" fill="none" stroke="#555" stroke-width="1" stroke-dasharray="4,2" stroke-linejoin="round"/>
<polyline points="30.6,607.9 37.5,616.6 44.39,635.4 51.29,620.7 58.19,628.1 65.09,626.1 71.98,610.2 78.88,633.8 85.78,617.6 92.68,613.6 99.57,634.4 106.47,626.1 113.37,631 120.27,624.7 127.16,624.1 134.06,625.1 140.96,645.9 147.86,651.6 154.75,612.6 161.65,615 168.55,612.2 175.45,627.7 182.34,612 189.24,627.7 196.14,614 203.04,632.8 209.93,634.6 216.83,631.8 223.73,627.3 230.63,617 237.52,620.7 244.42,619.6 251.32,612.2 258.22,612.6 265.11,621.3 272.01,615 278.91,606.9 285.81,607.9 292.7,618.2 299.6,598 306.5,626.7" fill="none" stroke="#111" stroke-width="0.75" stroke-dasharray="2.2,1.6" stroke-linejoin="round"/>
<polyline points="30.6,694.8 37.5,687.3 44.39,672.8 51.29,662.1 58.19,668.7 65.09,667.7 71.98,674.2 78.88,666.7 85.78,682.7 92.68,669.5 99.57,675.6 106.47,675.6 113.37,673.6 120.27,676.8 127.16,683.3 134.06,670.2 140.96,664.1 147.86,654.4 154.75,662.1 161.65,659 168.55,659.6 175.45,667.5 182.34,660.7 189.24,636.8 196.14,648.9 203.04,626.7 209.93,615.2 216.83,640.3 223.73,644.9 230.63,659.6 237.52,647.3 244.42,660.1 251.32,657.4 258.22,657.4 265.11,655.6 272.01,622.7 278.91,616.2 285.81,627.3 292.7,612 299.6,628.1 306.5,564.7" fill="none" stroke="#111" stroke-width="0.8" stroke-linejoin="round"/>
<g fill="#1a1ad0">
<path d="M30.6 606.22L32.2 609.02L29 609.02Z"/>
<path d="M37.5 614.92L39.1 617.72L35.9 617.72Z"/>
<path d="M44.39 633.72L45.99 636.52L42.79 636.52Z"/>
<path d="M51.29 619.02L52.89 621.82L49.69 621.82Z"/>
<path d="M58.19 626.42L59.79 629.22L56.59 629.22Z"/>
<path d="M65.09 624.42L66.69 627.22L63.49 627.22Z"/>
<path d="M71.98 608.52L73.58 611.32L70.38 611.32Z"/>
<path d="M78.88 632.12L80.48 634.92L77.28 634.92Z"/>
<path d="M85.78 615.92L87.38 618.72L84.18 618.72Z"/>
<path d="M92.68 611.92L94.28 614.72L91.08 614.72Z"/>
<path d="M99.57 632.72L101.17 635.52L97.97 635.52Z"/>
<path d="M106.47 624.42L108.07 627.22L104.87 627.22Z"/>
<path d="M113.37 629.32L114.97 632.12L111.77 632.12Z"/>
<path d="M120.27 623.02L121.87 625.82L118.67 625.82Z"/>
<path d="M127.16 622.42L128.76 625.22L125.56 625.22Z"/>
<path d="M134.06 623.42L135.66 626.22L132.46 626.22Z"/>
<path d="M140.96 644.22L142.56 647.02L139.36 647.02Z"/>
<path d="M147.86 649.92L149.46 652.72L146.26 652.72Z"/>
<path d="M154.75 610.92L156.35 613.72L153.16 613.72Z"/>
<path d="M161.65 613.32L163.25 616.12L160.05 616.12Z"/>
<path d="M168.55 610.52L170.15 613.32L166.95 613.32Z"/>
<path d="M175.45 626.02L177.05 628.82L173.85 628.82Z"/>
<path d="M182.34 610.32L183.94 613.12L180.74 613.12Z"/>
<path d="M189.24 626.02L190.84 628.82L187.64 628.82Z"/>
<path d="M196.14 612.32L197.74 615.12L194.54 615.12Z"/>
<path d="M203.04 631.12L204.64 633.92L201.44 633.92Z"/>
<path d="M209.93 632.92L211.53 635.72L208.33 635.72Z"/>
<path d="M216.83 630.12L218.43 632.92L215.23 632.92Z"/>
<path d="M223.73 625.62L225.33 628.42L222.13 628.42Z"/>
<path d="M230.63 615.32L232.23 618.12L229.03 618.12Z"/>
<path d="M237.52 619.02L239.12 621.82L235.92 621.82Z"/>
<path d="M244.42 617.92L246.02 620.72L242.82 620.72Z"/>
<path d="M251.32 610.52L252.92 613.32L249.72 613.32Z"/>
<path d="M258.22 610.92L259.82 613.72L256.62 613.72Z"/>
<path d="M265.11 619.62L266.71 622.42L263.51 622.42Z"/>
<path d="M272.01 613.32L273.61 616.12L270.41 616.12Z"/>
<path d="M278.91 605.22L280.51 608.02L277.31 608.02Z"/>
<path d="M285.81 606.22L287.41 609.02L284.21 609.02Z"/>
<path d="M292.7 616.52L294.31 619.32L291.1 619.32Z"/>
<path d="M299.6 596.32L301.2 599.12L298 599.12Z"/>
<path d="M306.5 625.02L308.1 627.82L304.9 627.82Z"/>
</g>
<g fill="#7a1020" stroke="#300" stroke-width="0.5">
<circle cx="30.6" cy="694.8" r="1.4"/>
<circle cx="37.5" cy="687.3" r="1.4"/>
<circle cx="44.39" cy="672.8" r="1.4"/>
<circle cx="51.29" cy="662.1" r="1.4"/>
<circle cx="58.19" cy="668.7" r="1.4"/>
<circle cx="65.09" cy="667.7" r="1.4"/>
<circle cx="71.98" cy="674.2" r="1.4"/>
<circle cx="78.88" cy="666.7" r="1.4"/>
<circle cx="85.78" cy="682.7" r="1.4"/>
<circle cx="92.68" cy="669.5" r="1.4"/>
<circle cx="99.57" cy="675.6" r="1.4"/>
<circle cx="106.47" cy="675.6" r="1.4"/>
<circle cx="113.37" cy="673.6" r="1.4"/>
<circle cx="120.27" cy="676.8" r="1.4"/>
<circle cx="127.16" cy="683.3" r="1.4"/>
<circle cx="134.06" cy="670.2" r="1.4"/>
<circle cx="140.96" cy="664.1" r="1.4"/>
<circle cx="147.86" cy="654.4" r="1.4"/>
<circle cx="154.75" cy="662.1" r="1.4"/>
<circle cx="161.65" cy="659" r="1.4"/>
<circle cx="168.55" cy="659.6" r="1.4"/>
<circle cx="175.45" cy="667.5" r="1.4"/>
<circle cx="182.34" cy="660.7" r="1.4"/>
<circle cx="189.24" cy="636.8" r="1.4"/>
<circle cx="196.14" cy="648.9" r="1.4"/>
<circle cx="203.04" cy="626.7" r="1.4"/>
<circle cx="209.93" cy="615.2" r="1.4"/>
<circle cx="216.83" cy="640.3" r="1.4"/>
<circle cx="223.73" cy="644.9" r="1.4"/>
<circle cx="230.63" cy="659.6" r="1.4"/>
<circle cx="237.52" cy="647.3" r="1.4"/>
<circle cx="244.42" cy="660.1" r="1.4"/>
<circle cx="251.32" cy="657.4" r="1.4"/>
<circle cx="258.22" cy="657.4" r="1.4"/>
<circle cx="265.11" cy="655.6" r="1.4"/>
<circle cx="272.01" cy="622.7" r="1.4"/>
<circle cx="278.91" cy="616.2" r="1.4"/>
<circle cx="285.81" cy="627.3" r="1.4"/>
<circle cx="292.7" cy="612" r="1.4"/>
<circle cx="299.6" cy="628.1" r="1.4"/>
<circle cx="306.5" cy="564.7" r="1.4"/>
</g>
<g stroke="#222" stroke-width="0.9" fill="none">
<path d="M377.1 555.7V708 M652.4 555.7V708 M377.1 708H652.4"/>
<path d="M374.9 708H379.7M377.1 703.65H379.3M377.1 699.3H379.3M377.1 694.95H379.3M377.1 690.59H379.3M374.9 686.24H379.7M377.1 681.89H379.3M377.1 677.54H379.3M377.1 673.19H379.3M377.1 668.84H379.3M374.9 664.49H379.7M377.1 660.13H379.3M377.1 655.78H379.3M377.1 651.43H379.3M377.1 647.08H379.3M374.9 642.73H379.7M377.1 638.38H379.3M377.1 634.03H379.3M377.1 629.67H379.3M377.1 625.32H379.3M374.9 620.97H379.7M377.1 616.62H379.3M377.1 612.27H379.3M377.1 607.92H379.3M377.1 603.57H379.3M374.9 599.21H379.7M377.1 594.86H379.3M377.1 590.51H379.3M377.1 586.16H379.3M377.1 581.81H379.3M374.9 577.46H379.7M377.1 573.11H379.3M377.1 568.75H379.3M377.1 564.4H379.3M377.1 560.05H379.3M374.9 555.7H379.7M650.2 708H654.6M650.4 688.96H652.4M650.2 669.92H654.6M650.4 650.89H652.4M650.2 631.85H654.6M650.4 612.81H652.4M650.2 593.78H654.6M650.4 574.74H652.4M650.2 555.7H654.6M377.1 706.4V710.6M381.34 706.4V708M385.57 706.4V708M389.81 706.4V708M394.04 706.4V708M398.28 706.4V710.6M402.51 706.4V708M406.75 706.4V708M410.98 706.4V708M415.22 706.4V708M419.45 706.4V710.6M423.69 706.4V708M427.92 706.4V708M432.16 706.4V708M436.4 706.4V708M440.63 706.4V710.6M444.87 706.4V708M449.1 706.4V708M453.34 706.4V708M457.57 706.4V708M461.81 706.4V710.6M466.04 706.4V708M470.28 706.4V708M474.51 706.4V708M478.75 706.4V708M482.98 706.4V710.6M487.22 706.4V708M491.46 706.4V708M495.69 706.4V708M499.93 706.4V708M504.16 706.4V710.6M508.4 706.4V708M512.63 706.4V708M516.87 706.4V708M521.1 706.4V708M525.34 706.4V710.6M529.57 706.4V708M533.81 706.4V708M538.04 706.4V708M542.28 706.4V708M546.52 706.4V710.6M550.75 706.4V708M554.99 706.4V708M559.22 706.4V708M563.46 706.4V708M567.69 706.4V710.6M571.93 706.4V708M576.16 706.4V708M580.4 706.4V708M584.63 706.4V708M588.87 706.4V710.6M593.1 706.4V708M597.34 706.4V708M601.58 706.4V708M605.81 706.4V708M610.05 706.4V710.6M614.28 706.4V708M618.52 706.4V708M622.75 706.4V708M626.99 706.4V708M631.22 706.4V710.6M635.46 706.4V708M639.69 706.4V708M643.93 706.4V708M648.16 706.4V708M652.4 706.4V710.6"/>
</g>
<text x="367.6" y="711.5" font-size="7.2" text-anchor="end" textLength="3.55" lengthAdjust="spacingAndGlyphs" fill="#1a1a1a" stroke="#1a1a1a" stroke-width="0.1">0</text>
<text x="367.6" y="689.74" font-size="7.2" text-anchor="end" textLength="7.1" lengthAdjust="spacingAndGlyphs" fill="#1a1a1a" stroke="#1a1a1a" stroke-width="0.1">10</text>
<text x="367.6" y="667.99" font-size="7.2" text-anchor="end" textLength="7.1" lengthAdjust="spacingAndGlyphs" fill="#1a1a1a" stroke="#1a1a1a" stroke-width="0.1">20</text>
<text x="367.6" y="646.23" font-size="7.2" text-anchor="end" textLength="7.1" lengthAdjust="spacingAndGlyphs" fill="#1a1a1a" stroke="#1a1a1a" stroke-width="0.1">30</text>
<text x="367.6" y="624.47" font-size="7.2" text-anchor="end" textLength="7.1" lengthAdjust="spacingAndGlyphs" fill="#1a1a1a" stroke="#1a1a1a" stroke-width="0.1">40</text>
<text x="367.6" y="602.71" font-size="7.2" text-anchor="end" textLength="7.1" lengthAdjust="spacingAndGlyphs" fill="#1a1a1a" stroke="#1a1a1a" stroke-width="0.1">50</text>
<text x="367.6" y="580.96" font-size="7.2" text-anchor="end" textLength="7.1" lengthAdjust="spacingAndGlyphs" fill="#1a1a1a" stroke="#1a1a1a" stroke-width="0.1">60</text>
<text x="367.6" y="559.2" font-size="7.2" text-anchor="end" textLength="7.1" lengthAdjust="spacingAndGlyphs" fill="#1a1a1a" stroke="#1a1a1a" stroke-width="0.1">70</text>
<text x="659.3" y="711.5" font-size="7.2" fill="#1a1a1a" stroke="#1a1a1a" stroke-width="0.1">0</text>
<text x="659.3" y="673.42" font-size="7.2" fill="#1a1a1a" stroke="#1a1a1a" stroke-width="0.1">1</text>
<text x="659.3" y="635.35" font-size="7.2" fill="#1a1a1a" stroke="#1a1a1a" stroke-width="0.1">2</text>
<text x="659.3" y="597.28" font-size="7.2" fill="#1a1a1a" stroke="#1a1a1a" stroke-width="0.1">3</text>
<text x="659.3" y="559.2" font-size="7.2" fill="#1a1a1a" stroke="#1a1a1a" stroke-width="0.1">4</text>
<text transform="translate(380 728.3) rotate(-90)" font-size="8" textLength="15.2" lengthAdjust="spacingAndGlyphs" fill="#1a1a1a" stroke="#1a1a1a" stroke-width="0.1">1974</text>
<text transform="translate(401.18 728.3) rotate(-90)" font-size="8" textLength="15.2" lengthAdjust="spacingAndGlyphs" fill="#1a1a1a" stroke="#1a1a1a" stroke-width="0.1">1977</text>
<text transform="translate(422.35 728.3) rotate(-90)" font-size="8" textLength="15.2" lengthAdjust="spacingAndGlyphs" fill="#1a1a1a" stroke="#1a1a1a" stroke-width="0.1">1980</text>
<text transform="translate(443.53 728.3) rotate(-90)" font-size="8" textLength="15.2" lengthAdjust="spacingAndGlyphs" fill="#1a1a1a" stroke="#1a1a1a" stroke-width="0.1">1983</text>
<text transform="translate(464.71 728.3) rotate(-90)" font-size="8" textLength="15.2" lengthAdjust="spacingAndGlyphs" fill="#1a1a1a" stroke="#1a1a1a" stroke-width="0.1">1986</text>
<text transform="translate(485.88 728.3) rotate(-90)" font-size="8" textLength="15.2" lengthAdjust="spacingAndGlyphs" fill="#1a1a1a" stroke="#1a1a1a" stroke-width="0.1">1989</text>
<text transform="translate(507.06 728.3) rotate(-90)" font-size="8" textLength="15.2" lengthAdjust="spacingAndGlyphs" fill="#1a1a1a" stroke="#1a1a1a" stroke-width="0.1">1992</text>
<text transform="translate(528.24 728.3) rotate(-90)" font-size="8" textLength="15.2" lengthAdjust="spacingAndGlyphs" fill="#1a1a1a" stroke="#1a1a1a" stroke-width="0.1">1995</text>
<text transform="translate(549.42 728.3) rotate(-90)" font-size="8" textLength="15.2" lengthAdjust="spacingAndGlyphs" fill="#1a1a1a" stroke="#1a1a1a" stroke-width="0.1">1998</text>
<text transform="translate(570.59 728.3) rotate(-90)" font-size="8" textLength="15.2" lengthAdjust="spacingAndGlyphs" fill="#1a1a1a" stroke="#1a1a1a" stroke-width="0.1">2001</text>
<text transform="translate(591.77 728.3) rotate(-90)" font-size="8" textLength="15.2" lengthAdjust="spacingAndGlyphs" fill="#1a1a1a" stroke="#1a1a1a" stroke-width="0.1">2004</text>
<text transform="translate(612.95 728.3) rotate(-90)" font-size="8" textLength="15.2" lengthAdjust="spacingAndGlyphs" fill="#1a1a1a" stroke="#1a1a1a" stroke-width="0.1">2007</text>
<text transform="translate(634.12 728.3) rotate(-90)" font-size="8" textLength="15.2" lengthAdjust="spacingAndGlyphs" fill="#1a1a1a" stroke="#1a1a1a" stroke-width="0.1">2010</text>
<text transform="translate(655.3 728.3) rotate(-90)" font-size="8" textLength="15.2" lengthAdjust="spacingAndGlyphs" fill="#1a1a1a" stroke="#1a1a1a" stroke-width="0.1">2013</text>
<line x1="377.1" y1="646.5" x2="652.4" y2="626.5" stroke="#111" stroke-width="0.8"/>
<polyline points="377.1,583.62 380.58,585.12 384.07,586.58 387.55,587.99 391.04,589.37 394.52,590.7 398.01,591.99 401.49,593.25 404.98,594.46 408.46,595.63 411.95,596.76 415.43,597.85 418.92,598.9 422.4,599.91 425.89,600.88 429.37,601.81 432.86,602.7 436.34,603.55 439.83,604.36 443.31,605.12 446.8,605.85 450.28,606.53 453.77,607.18 457.25,607.78 460.74,608.35 464.22,608.87 467.71,609.36 471.19,609.8 474.67,610.2 478.16,610.56 481.64,610.88 485.13,611.17 488.61,611.41 492.1,611.61 495.58,611.76 499.07,611.88 502.55,611.96 506.04,612 509.52,612 513.01,611.95 516.49,611.87 519.98,611.74 523.46,611.58 526.95,611.37 530.43,611.13 533.92,610.84 537.4,610.52 540.89,610.15 544.37,609.74 547.86,609.29 551.34,608.8 554.83,608.27 558.31,607.7 561.79,607.09 565.28,606.44 568.76,605.75 572.25,605.02 575.73,604.25 579.22,603.43 582.7,602.58 586.19,601.69 589.67,600.75 593.16,599.78 596.64,598.76 600.13,597.71 603.61,596.61 607.1,595.47 610.58,594.29 614.07,593.08 617.55,591.82 621.04,590.52 624.52,589.18 628.01,587.8 631.49,586.38 634.98,584.92 638.46,583.42 641.95,581.87 645.43,580.29 648.92,578.67 652.4,577.01" fill="none" stroke="#555" stroke-width="1" stroke-dasharray="4,2" stroke-linejoin="round"/>
<polyline points="377.1,562.1 384.16,601.9 391.22,589.3 398.28,574.8 405.34,600.5 412.39,603.5 419.45,599.8 426.51,592.4 433.57,615.2 440.63,588.9 447.69,605.5 454.75,604.5 461.81,621.7 468.87,608.1 475.93,609.5 482.98,646.9 490.04,640.9 497.1,624.7 504.16,603.5 511.22,615.6 518.28,595.8 525.34,601.5 532.4,592 539.46,593.4 546.52,600.5 553.57,602.5 560.63,608.2 567.69,620 574.75,607.1 581.81,613.6 588.87,587.3 595.93,604.5 602.99,581.3 610.05,601.9 617.11,598 624.16,585.3 631.22,578.8 638.28,572.8 645.34,587.3 652.4,601.5" fill="none" stroke="#111" stroke-width="0.75" stroke-dasharray="2.2,1.6" stroke-linejoin="round"/>
<polyline points="377.1,673.8 384.16,645.3 391.22,629.1 398.28,615.2 405.34,638.4 412.39,584.9 419.45,614.2 426.51,649.3 433.57,641.9 440.63,669.1 447.69,670.8 454.75,662.7 461.81,674.6 468.87,639.8 475.93,657 482.98,597 490.04,609.1 497.1,648.9 504.16,647.5 511.22,634.2 518.28,638.8 525.34,658.6 532.4,669.7 539.46,648.3 546.52,632.2 553.57,636.8 560.63,633 567.69,600.5 574.75,648.3 581.81,614 588.87,657.4 595.93,649.3 602.99,654.6 610.05,642.3 617.11,662.1 624.16,613.6 631.22,611.2 638.28,614 645.34,615 652.4,574.2" fill="none" stroke="#111" stroke-width="0.8" stroke-linejoin="round"/>
<g fill="#1a1ad0">
<path d="M377.1 560.42L378.7 563.22L375.5 563.22Z"/>
<path d="M384.16 600.22L385.76 603.02L382.56 603.02Z"/>
<path d="M391.22 587.62L392.82 590.42L389.62 590.42Z"/>
<path d="M398.28 573.12L399.88 575.92L396.68 575.92Z"/>
<path d="M405.34 598.82L406.94 601.62L403.74 601.62Z"/>
<path d="M412.39 601.82L413.99 604.62L410.79 604.62Z"/>
<path d="M419.45 598.12L421.05 600.92L417.85 600.92Z"/>
<path d="M426.51 590.72L428.11 593.52L424.91 593.52Z"/>
<path d="M433.57 613.52L435.17 616.32L431.97 616.32Z"/>
<path d="M440.63 587.22L442.23 590.02L439.03 590.02Z"/>
<path d="M447.69 603.82L449.29 606.62L446.09 606.62Z"/>
<path d="M454.75 602.82L456.35 605.62L453.15 605.62Z"/>
<path d="M461.81 620.02L463.41 622.82L460.21 622.82Z"/>
<path d="M468.87 606.42L470.47 609.22L467.27 609.22Z"/>
<path d="M475.93 607.82L477.53 610.62L474.33 610.62Z"/>
<path d="M482.98 645.22L484.58 648.02L481.38 648.02Z"/>
<path d="M490.04 639.22L491.64 642.02L488.44 642.02Z"/>
<path d="M497.1 623.02L498.7 625.82L495.5 625.82Z"/>
<path d="M504.16 601.82L505.76 604.62L502.56 604.62Z"/>
<path d="M511.22 613.92L512.82 616.72L509.62 616.72Z"/>
<path d="M518.28 594.12L519.88 596.92L516.68 596.92Z"/>
<path d="M525.34 599.82L526.94 602.62L523.74 602.62Z"/>
<path d="M532.4 590.32L534 593.12L530.8 593.12Z"/>
<path d="M539.46 591.72L541.06 594.52L537.86 594.52Z"/>
<path d="M546.52 598.82L548.12 601.62L544.92 601.62Z"/>
<path d="M553.57 600.82L555.17 603.62L551.97 603.62Z"/>
<path d="M560.63 606.52L562.23 609.32L559.03 609.32Z"/>
<path d="M567.69 618.32L569.29 621.12L566.09 621.12Z"/>
<path d="M574.75 605.42L576.35 608.22L573.15 608.22Z"/>
<path d="M581.81 611.92L583.41 614.72L580.21 614.72Z"/>
<path d="M588.87 585.62L590.47 588.42L587.27 588.42Z"/>
<path d="M595.93 602.82L597.53 605.62L594.33 605.62Z"/>
<path d="M602.99 579.62L604.59 582.42L601.39 582.42Z"/>
<path d="M610.05 600.22L611.65 603.02L608.45 603.02Z"/>
<path d="M617.11 596.32L618.71 599.12L615.51 599.12Z"/>
<path d="M624.16 583.62L625.76 586.42L622.56 586.42Z"/>
<path d="M631.22 577.12L632.82 579.92L629.62 579.92Z"/>
<path d="M638.28 571.12L639.88 573.92L636.68 573.92Z"/>
<path d="M645.34 585.62L646.94 588.42L643.74 588.42Z"/>
<path d="M652.4 599.82L654 602.62L650.8 602.62Z"/>
</g>
<g fill="#7a1020" stroke="#300" stroke-width="0.5">
<circle cx="377.1" cy="673.8" r="1.4"/>
<circle cx="384.16" cy="645.3" r="1.4"/>
<circle cx="391.22" cy="629.1" r="1.4"/>
<circle cx="398.28" cy="615.2" r="1.4"/>
<circle cx="405.34" cy="638.4" r="1.4"/>
<circle cx="412.39" cy="584.9" r="1.4"/>
<circle cx="419.45" cy="614.2" r="1.4"/>
<circle cx="426.51" cy="649.3" r="1.4"/>
<circle cx="433.57" cy="641.9" r="1.4"/>
<circle cx="440.63" cy="669.1" r="1.4"/>
<circle cx="447.69" cy="670.8" r="1.4"/>
<circle cx="454.75" cy="662.7" r="1.4"/>
<circle cx="461.81" cy="674.6" r="1.4"/>
<circle cx="468.87" cy="639.8" r="1.4"/>
<circle cx="475.93" cy="657" r="1.4"/>
<circle cx="482.98" cy="597" r="1.4"/>
<circle cx="490.04" cy="609.1" r="1.4"/>
<circle cx="497.1" cy="648.9" r="1.4"/>
<circle cx="504.16" cy="647.5" r="1.4"/>
<circle cx="511.22" cy="634.2" r="1.4"/>
<circle cx="518.28" cy="638.8" r="1.4"/>
<circle cx="525.34" cy="658.6" r="1.4"/>
<circle cx="532.4" cy="669.7" r="1.4"/>
<circle cx="539.46" cy="648.3" r="1.4"/>
<circle cx="546.52" cy="632.2" r="1.4"/>
<circle cx="553.57" cy="636.8" r="1.4"/>
<circle cx="560.63" cy="633" r="1.4"/>
<circle cx="567.69" cy="600.5" r="1.4"/>
<circle cx="574.75" cy="648.3" r="1.4"/>
<circle cx="581.81" cy="614" r="1.4"/>
<circle cx="588.87" cy="657.4" r="1.4"/>
<circle cx="595.93" cy="649.3" r="1.4"/>
<circle cx="602.99" cy="654.6" r="1.4"/>
<circle cx="610.05" cy="642.3" r="1.4"/>
<circle cx="617.11" cy="662.1" r="1.4"/>
<circle cx="624.16" cy="613.6" r="1.4"/>
<circle cx="631.22" cy="611.2" r="1.4"/>
<circle cx="638.28" cy="614" r="1.4"/>
<circle cx="645.34" cy="615" r="1.4"/>
<circle cx="652.4" cy="574.2" r="1.4"/>
</g>
<text x="258.8" y="52.2" font-size="14.6" textLength="198" lengthAdjust="spacingAndGlyphs" fill="#1a1a1a">y = 0.0018x<tspan font-size="9.05" dy="-5.26">2</tspan><tspan dy="5.26"> - 6.9693x + 6940.2</tspan></text>
<text x="292.6" y="67.9" font-size="14.6" textLength="129.6" lengthAdjust="spacingAndGlyphs" fill="#1a1a1a">R<tspan font-size="9.05" dy="-5.26">2</tspan><tspan dy="5.26"> = 0.5876, P &lt; 0.05</tspan></text>
<text x="226.1" y="235.8" font-size="14.6" textLength="126.3" lengthAdjust="spacingAndGlyphs" fill="#1a1a1a">y = 0.6976x - 1359.8</text>
<text x="224.7" y="251.8" font-size="14.6" textLength="129" lengthAdjust="spacingAndGlyphs" fill="#1a1a1a">R<tspan font-size="9.05" dy="-5.26">2</tspan><tspan dy="5.26"> = 0.6325, P &lt; 0.05</tspan></text>
<text x="327" y="349.3" font-size="17" textLength="33.3" lengthAdjust="spacingAndGlyphs" fill="#1a1a1a">Year</text>
<text x="6.6" y="352.4" font-size="20.5" textLength="67.1" lengthAdjust="spacingAndGlyphs" fill="#1a1a1a">Annual</text>
<text transform="translate(22.9 247.2) rotate(-90)" font-size="19" textLength="190.2" lengthAdjust="spacingAndGlyphs" fill="#1a1a1a">PM<tspan font-size="12" dy="4">2.5</tspan><tspan dy="-4"> concentration (μg/m</tspan><tspan font-size="12" dy="-7">3</tspan><tspan dy="7">)</tspan></text>
<text transform="translate(673.6 211) rotate(-90)" font-size="19" textLength="119.1" lengthAdjust="spacingAndGlyphs" fill="#1a1a1a">Wind speed (m/s)</text>
<text x="4.1" y="548" font-size="11.5" textLength="30.5" lengthAdjust="spacingAndGlyphs" fill="#1a1a1a">Spring</text>
<text x="162.2" y="546.3" font-size="9.3" textLength="17.3" lengthAdjust="spacingAndGlyphs" fill="#1a1a1a" stroke="#1a1a1a" stroke-width="0.1">Year</text>
<text x="159.9" y="378.6" font-size="7.4" textLength="97.4" lengthAdjust="spacingAndGlyphs" fill="#1a1a1a" stroke="#1a1a1a" stroke-width="0.1">y = 0.0026x<tspan font-size="4.59" dy="-2.66">2</tspan><tspan dy="2.66"> - 10.561x + 10525</tspan></text>
<text x="177.8" y="387.4" font-size="7.4" textLength="60.9" lengthAdjust="spacingAndGlyphs" fill="#1a1a1a" stroke="#1a1a1a" stroke-width="0.1">R<tspan font-size="4.59" dy="-2.66">2</tspan><tspan dy="2.66"> = 0.5374, P&lt;0.05</tspan></text>
<text x="124.5" y="495.6" font-size="7.4" textLength="63.4" lengthAdjust="spacingAndGlyphs" fill="#1a1a1a" stroke="#1a1a1a" stroke-width="0.1">y = 0.5282x - 1026.9</text>
<text x="123.9" y="504.1" font-size="7.4" textLength="64.9" lengthAdjust="spacingAndGlyphs" fill="#1a1a1a" stroke="#1a1a1a" stroke-width="0.1">R<tspan font-size="4.59" dy="-2.66">2</tspan><tspan dy="2.66"> = 0.4565, P &lt; 0.05</tspan></text>
<text transform="translate(9.4 486.9) rotate(-90)" font-size="8.6" textLength="101.2" lengthAdjust="spacingAndGlyphs" fill="#1a1a1a" stroke="#1a1a1a" stroke-width="0.1">PM<tspan font-size="5.3" dy="1.8">2.5</tspan><tspan dy="-1.8"> concentration (μg/m</tspan><tspan font-size="5.3" dy="-3.2">3</tspan><tspan dy="3.2">)</tspan></text>
<text transform="translate(336 472.6) rotate(-90)" font-size="9.4" textLength="63.9" lengthAdjust="spacingAndGlyphs" fill="#1a1a1a" stroke="#1a1a1a" stroke-width="0.1">Wind speed (m/s)</text>
<text x="348" y="548.7" font-size="11.5" textLength="39.4" lengthAdjust="spacingAndGlyphs" fill="#1a1a1a">Summer</text>
<text x="506.6" y="546.5" font-size="9.3" textLength="17.1" lengthAdjust="spacingAndGlyphs" fill="#1a1a1a" stroke="#1a1a1a" stroke-width="0.1">Year</text>
<text x="502.4" y="384.9" font-size="7.4" textLength="95.1" lengthAdjust="spacingAndGlyphs" fill="#1a1a1a" stroke="#1a1a1a" stroke-width="0.1">y = 0.001x<tspan font-size="4.59" dy="-2.66">2</tspan><tspan dy="2.66"> - 4.1142x + 4091.5</tspan></text>
<text x="518.7" y="393.3" font-size="7.4" textLength="61.8" lengthAdjust="spacingAndGlyphs" fill="#1a1a1a" stroke="#1a1a1a" stroke-width="0.1">R<tspan font-size="4.59" dy="-2.66">2</tspan><tspan dy="2.66"> = 0.4153, P&lt;0.05</tspan></text>
<text x="506.2" y="495.2" font-size="7.4" textLength="63.7" lengthAdjust="spacingAndGlyphs" fill="#1a1a1a" stroke="#1a1a1a" stroke-width="0.1">y = 1.0269x - 2010.7</text>
<text x="508.8" y="504.1" font-size="7.4" textLength="58.2" lengthAdjust="spacingAndGlyphs" fill="#1a1a1a" stroke="#1a1a1a" stroke-width="0.1">R<tspan font-size="4.59" dy="-2.66">2</tspan><tspan dy="2.66"> = 0.71, P &lt; 0.05</tspan></text>
<text transform="translate(355 487.2) rotate(-90)" font-size="8.6" textLength="103.2" lengthAdjust="spacingAndGlyphs" fill="#1a1a1a" stroke="#1a1a1a" stroke-width="0.1">PM<tspan font-size="5.3" dy="1.8">2.5</tspan><tspan dy="-1.8"> concentration (μg/m</tspan><tspan font-size="5.3" dy="-3.2">3</tspan><tspan dy="3.2">)</tspan></text>
<text transform="translate(681.1 472.6) rotate(-90)" font-size="9.4" textLength="63.9" lengthAdjust="spacingAndGlyphs" fill="#1a1a1a" stroke="#1a1a1a" stroke-width="0.1">Wind speed (m/s)</text>
<text x="3.5" y="740.4" font-size="11.5" textLength="38" lengthAdjust="spacingAndGlyphs" fill="#1a1a1a">Autumn</text>
<text x="161.8" y="738.9" font-size="9.3" textLength="17.1" lengthAdjust="spacingAndGlyphs" fill="#1a1a1a" stroke="#1a1a1a" stroke-width="0.1">Year</text>
<text x="178.4" y="573.1" font-size="7.4" textLength="95" lengthAdjust="spacingAndGlyphs" fill="#1a1a1a" stroke="#1a1a1a" stroke-width="0.1">y = 0.001x<tspan font-size="4.59" dy="-2.66">2</tspan><tspan dy="2.66"> - 4.0642x + 4043.8</tspan></text>
<text x="194.5" y="581.2" font-size="7.4" textLength="61.7" lengthAdjust="spacingAndGlyphs" fill="#1a1a1a" stroke="#1a1a1a" stroke-width="0.1">R<tspan font-size="4.59" dy="-2.66">2</tspan><tspan dy="2.66"> = 0.2737, P&lt;0.05</tspan></text>
<text x="174.9" y="690" font-size="7.4" textLength="63" lengthAdjust="spacingAndGlyphs" fill="#1a1a1a" stroke="#1a1a1a" stroke-width="0.1">y = 0.9614x - 1884.6</text>
<text x="174.2" y="699.1" font-size="7.4" textLength="64.8" lengthAdjust="spacingAndGlyphs" fill="#1a1a1a" stroke="#1a1a1a" stroke-width="0.1">R<tspan font-size="4.59" dy="-2.66">2</tspan><tspan dy="2.66"> = 0.6079, P &lt; 0.05</tspan></text>
<text transform="translate(9 679.4) rotate(-90)" font-size="8.6" textLength="105.4" lengthAdjust="spacingAndGlyphs" fill="#1a1a1a" stroke="#1a1a1a" stroke-width="0.1">PM<tspan font-size="5.3" dy="1.8">2.5</tspan><tspan dy="-1.8"> concentration (μg/m</tspan><tspan font-size="5.3" dy="-3.2">3</tspan><tspan dy="3.2">)</tspan></text>
<text transform="translate(334.4 664.4) rotate(-90)" font-size="9.4" textLength="63.9" lengthAdjust="spacingAndGlyphs" fill="#1a1a1a" stroke="#1a1a1a" stroke-width="0.1">Wind speed (m/s)</text>
<text x="348.4" y="739.3" font-size="11.5" textLength="30.9" lengthAdjust="spacingAndGlyphs" fill="#1a1a1a">Winter</text>
<text x="506.8" y="738.9" font-size="9.3" textLength="16.9" lengthAdjust="spacingAndGlyphs" fill="#1a1a1a" stroke="#1a1a1a" stroke-width="0.1">Year</text>
<text x="485.6" y="563.4" font-size="7.4" textLength="99.5" lengthAdjust="spacingAndGlyphs" fill="#1a1a1a" stroke="#1a1a1a" stroke-width="0.1">y = 0.0022x<tspan font-size="4.59" dy="-2.66">2</tspan><tspan dy="2.66"> - 8.7124x + 8682.9</tspan></text>
<text x="504.5" y="571.6" font-size="7.4" textLength="61.7" lengthAdjust="spacingAndGlyphs" fill="#1a1a1a" stroke="#1a1a1a" stroke-width="0.1">R<tspan font-size="4.59" dy="-2.66">2</tspan><tspan dy="2.66"> = 0.3667, P&lt;0.05</tspan></text>
<text x="475.2" y="691" font-size="7.4" textLength="62.3" lengthAdjust="spacingAndGlyphs" fill="#1a1a1a" stroke="#1a1a1a" stroke-width="0.1">y = 0.2342x - 434.11</text>
<text x="474.5" y="700.2" font-size="7.4" textLength="64.5" lengthAdjust="spacingAndGlyphs" fill="#1a1a1a" stroke="#1a1a1a" stroke-width="0.1">R<tspan font-size="4.59" dy="-2.66">2</tspan><tspan dy="2.66"> = 0.0576, P &lt; 0.05</tspan></text>
<text transform="translate(355 679.4) rotate(-90)" font-size="8.6" textLength="104.8" lengthAdjust="spacingAndGlyphs" fill="#1a1a1a" stroke="#1a1a1a" stroke-width="0.1">PM<tspan font-size="5.3" dy="1.8">2.5</tspan><tspan dy="-1.8"> concentration (μg/m</tspan><tspan font-size="5.3" dy="-3.2">3</tspan><tspan dy="3.2">)</tspan></text>
<text transform="translate(680.5 664.4) rotate(-90)" font-size="9.4" textLength="63.5" lengthAdjust="spacingAndGlyphs" fill="#1a1a1a" stroke="#1a1a1a" stroke-width="0.1">Wind speed (m/s)</text>
</svg>
</body></html>
